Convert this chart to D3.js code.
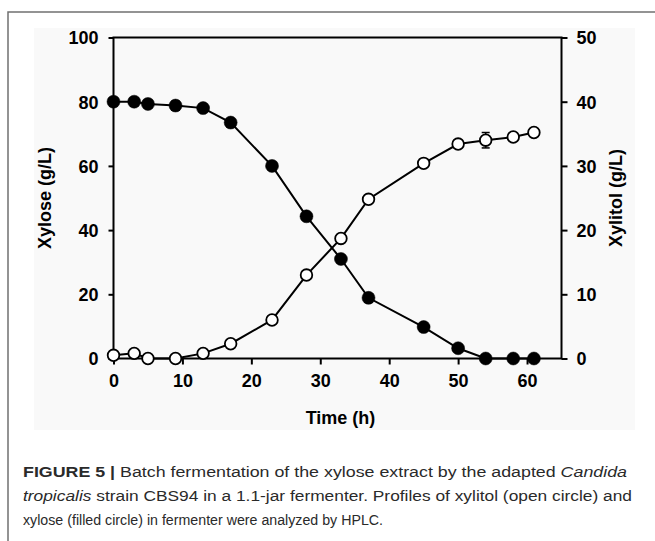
<!DOCTYPE html>
<html>
<head>
<meta charset="utf-8">
<script src="https://cdn.jsdelivr.net/npm/d3@7"></script>
<style>
  body { margin: 0; background: #fff; }
  svg { display: block; }
</style>
</head>
<body>
<div class="container"></div>
<script>
// data
const time = [0, 3, 5, 9, 13, 17, 23, 28, 33, 37, 45, 50, 54, 58, 61]
const xylose = [80, 80, 79.3, 78.8, 78, 73.5, 60, 44.3, 31, 18.9, 9.8, 3.2, 0, 0, 0]
const xyloseErr = [0, 0, 0, 1.4, 1.2, 0, 0, 0, 0, 0, 0, 0, 0, 0, 0]
const xylitol = [0.5, 0.8, 0, 0, 0.8, 2.3, 6, 13, 18.7, 24.8, 30.4, 33.4, 34, 34.5, 35.2]
const xylitolErr = [0, 0, 0, 0, 0, 0, 0, 0, 0, 0, 0, 0, 1.2, 0.5, 0]
const xTicks = [0, 10, 20, 30, 40, 50, 60]
const leftTicks = [0, 20, 40, 60, 80, 100]
const rightTicks = [0, 10, 20, 30, 40, 50]

const W = 655, H = 541
const svg = d3.select('.container')
    .append('svg')
    .attr('width', W)
    .attr('height', H)

// frame of the figure panel + grey picture background
svg.append('rect')
    .attr('x', 34).attr('y', 28)
    .attr('width', 601).attr('height', 402)
    .attr('fill', '#f9f9f9')
svg.append('path')
    .attr('d', 'M8,541V12H655')
    .attr('fill', 'none')
    .attr('stroke', '#707070')
    .attr('stroke-width', 1.5)

const x = d3.scaleLinear().domain([0, 65]).range([113.5, 561.5])
const yL = d3.scaleLinear().domain([0, 100]).range([358.5, 37.5])
const yR = d3.scaleLinear().domain([0, 50]).range([358.5, 37.5])

const axisFont = 'Liberation Sans, Arial, sans-serif'

function styleAxis(g) {
    g.select('.domain').remove()
    g.selectAll('.tick line').attr('stroke', '#000').attr('stroke-width', 2)
    g.selectAll('.tick text')
        .attr('fill', '#000')
        .attr('font-family', axisFont)
        .attr('font-weight', 'bold')
        .attr('font-size', 18)
}

svg.append('g')
    .attr('transform', `translate(0,${yL(0)})`)
    .call(d3.axisBottom(x).tickValues(xTicks).tickSize(6).tickPadding(10))
    .call(styleAxis)

svg.append('g')
    .attr('transform', `translate(${x(0)},0)`)
    .call(d3.axisLeft(yL).tickValues(leftTicks).tickSize(5).tickPadding(10))
    .call(styleAxis)
    .selectAll('.tick text').attr('dy', '0.36em')

svg.append('g')
    .attr('transform', `translate(${x(65)},0)`)
    .call(d3.axisRight(yR).tickValues(rightTicks).tickSize(6).tickPadding(9))
    .call(styleAxis)
    .selectAll('.tick text').attr('dy', '0.36em')

// box
svg.append('rect')
    .attr('x', x(0)).attr('y', yL(100))
    .attr('width', x(65) - x(0)).attr('height', yL(0) - yL(100))
    .attr('fill', 'none')
    .attr('stroke', '#000')
    .attr('stroke-width', 2)

// axis titles
svg.append('text')
    .attr('x', (x(0) + x(65)) / 2 + 3)
    .attr('y', 424)
    .attr('text-anchor', 'middle')
    .attr('font-family', axisFont)
    .attr('font-weight', 'bold')
    .attr('font-size', 18)
    .text('Time (h)')

svg.append('text')
    .attr('transform', `translate(51,${(yL(0) + yL(100)) / 2}) rotate(-90)`)
    .attr('text-anchor', 'middle')
    .attr('font-family', axisFont)
    .attr('font-weight', 'bold')
    .attr('font-size', 18)
    .text('Xylose (g/L)')

svg.append('text')
    .attr('transform', `translate(622,${(yL(0) + yL(100)) / 2}) rotate(-90)`)
    .attr('text-anchor', 'middle')
    .attr('font-family', axisFont)
    .attr('font-weight', 'bold')
    .attr('font-size', 18)
    .text('Xylitol (g/L)')

// series
const xyloseData = time.map((t, i) => ({ t, v: xylose[i], e: xyloseErr[i] }))
const xylitolData = time.map((t, i) => ({ t, v: xylitol[i], e: xylitolErr[i] }))

function drawSeries(data, yScale, filled) {
    const line = d3.line().x(d => x(d.t)).y(d => yScale(d.v))
    svg.append('path')
        .attr('d', line(data))
        .attr('fill', 'none')
        .attr('stroke', '#000')
        .attr('stroke-width', 2)

    const err = svg.append('g').attr('stroke', '#000').attr('stroke-width', 1.5)
    data.filter(d => d.e > 0).forEach(d => {
        const cx = x(d.t)
        err.append('line')
            .attr('x1', cx).attr('x2', cx)
            .attr('y1', yScale(d.v + d.e)).attr('y2', yScale(d.v - d.e))
        err.append('line')
            .attr('x1', cx - 4).attr('x2', cx + 4)
            .attr('y1', yScale(d.v + d.e)).attr('y2', yScale(d.v + d.e))
        err.append('line')
            .attr('x1', cx - 4).attr('x2', cx + 4)
            .attr('y1', yScale(d.v - d.e)).attr('y2', yScale(d.v - d.e))
    })

    svg.append('g')
        .selectAll('circle')
        .data(data)
        .join('circle')
        .attr('cx', d => x(d.t))
        .attr('cy', d => yScale(d.v))
        .attr('r', filled ? 6.5 : 5.8)
        .attr('fill', filled ? '#000' : '#fff')
        .attr('stroke', '#000')
        .attr('stroke-width', filled ? 0.5 : 1.8)
}

drawSeries(xylitolData, yR, false)
drawSeries(xyloseData, yL, true)

// caption
const capFont = 'Liberation Sans, Arial, sans-serif'
const capLines = [
    { y: 477, len: 604, parts: [
        { t: 'FIGURE 5 | ', w: 'bold' },
        { t: 'Batch fermentation of the xylose extract by the adapted ' },
        { t: 'Candida', s: 'italic' }] },
    { y: 501, len: 609, parts: [
        { t: 'tropicalis', s: 'italic' },
        { t: ' strain CBS94 in a 1.1-jar fermenter. Profiles of xylitol (open circle) and' }] },
    { y: 525, len: 360, parts: [
        { t: 'xylose (filled circle) in fermenter were analyzed by HPLC.' }] }
]
capLines.forEach(l => {
    const txt = svg.append('text')
        .attr('x', 23)
        .attr('y', l.y)
        .attr('font-family', capFont)
        .attr('font-size', 15.5)
        .attr('fill', '#2a2a2a')
        .attr('textLength', l.len)
        .attr('lengthAdjust', 'spacingAndGlyphs')
        .style('white-space', 'pre')
    l.parts.forEach(p => {
        txt.append('tspan')
            .attr('font-weight', p.w || 'normal')
            .attr('font-style', p.s || 'normal')
            .text(p.t)
    })
})
</script>
</body>
</html>
